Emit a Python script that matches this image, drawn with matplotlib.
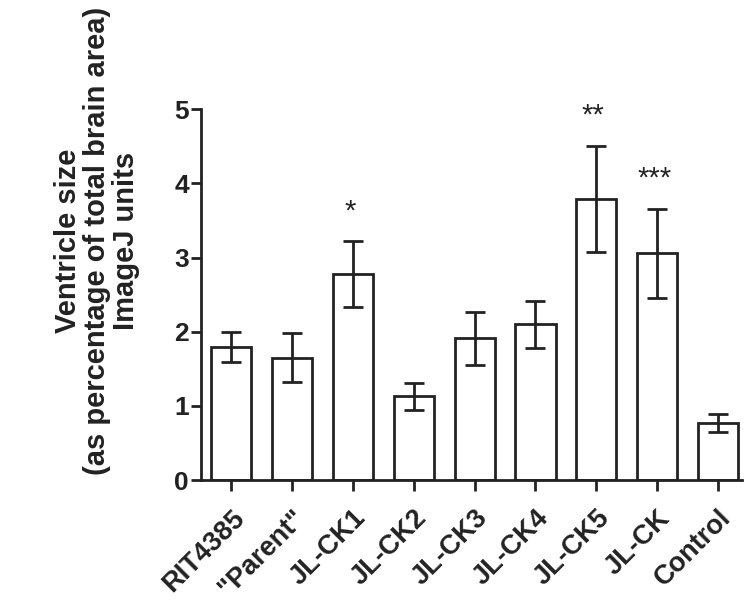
import numpy as np
import matplotlib.pyplot as plt
import matplotlib.transforms as mtransforms

plt.rcParams['font.family'] = ['Liberation Sans', 'DejaVu Sans']

# values
groups = ['RIT4385', '"Parent"', 'JL-CK1', 'JL-CK2', 'JL-CK3',
          'JL-CK4', 'JL-CK5', 'JL-CK', 'Control']
means = [1.79, 1.65, 2.78, 1.13, 1.91, 2.10, 3.79, 3.06, 0.77]
errs = [0.20, 0.33, 0.45, 0.18, 0.36, 0.32, 0.72, 0.60, 0.12]
stars = ['', '', '*', '', '', '', '**', '***', '']
star_y = [0, 0, 3.67, 0, 0, 0, 4.96, 4.11, 0]

fig = plt.figure(figsize=(7.49, 6.08), dpi=100)
ax = fig.add_axes([0.269, 0.2105, 0.722, 0.6097])

x = np.arange(len(groups))
ax.bar(x, means, width=0.66, color='white', edgecolor='#222222', linewidth=2.0, zorder=2)
ax.errorbar(x, means, yerr=errs, fmt='none', ecolor='#222222', elinewidth=2.0,
            capsize=7, capthick=2.0, zorder=3)

# significance marks; asterisks sit high in the text box, so nudge them down a bit
for i in range(len(groups)):
    if stars[i]:
        ax.text(x[i] - 0.05, star_y[i] - 0.05, stars[i], ha='center', va='center',
                fontsize=21, color='#222222')

ax.set_xlim(-0.49, 8.4)
ax.set_ylim(0, 5)
ax.set_yticks([0, 1, 2, 3, 4, 5])
ax.set_xticks(x)
ax.set_xticklabels(groups, rotation=45, ha='right', rotation_mode='anchor',
                   fontsize=19.5, fontweight='bold', color='#222222')
# pull rotated labels left so their ends sit under the ticks
shift = mtransforms.ScaledTranslation(-7 / 72, 0, fig.dpi_scale_trans)
for lab in ax.get_xticklabels():
    lab.set_transform(lab.get_transform() + shift)
for lab in ax.get_yticklabels():
    lab.set_fontsize(19)
    lab.set_fontweight('bold')
    lab.set_color('#222222')

ax.spines['top'].set_visible(False)
ax.spines['right'].set_visible(False)
ax.spines['left'].set_linewidth(2.0)
ax.spines['bottom'].set_linewidth(2.0)
ax.spines['left'].set_color('#222222')
ax.spines['bottom'].set_color('#222222')
ax.tick_params(axis='y', length=7, width=2.0, color='#222222', pad=2)
ax.tick_params(axis='x', length=8, width=2.0, color='#222222', pad=10)

fig.text(0.129, 0.604, 'Ventricle size\n(as percentage of total brain area)\nImageJ units',
         rotation=90, ha='center', va='center', fontsize=21, fontweight='bold',
         color='#222222', linespacing=1.05)

fig.savefig('out.png', dpi=100)
